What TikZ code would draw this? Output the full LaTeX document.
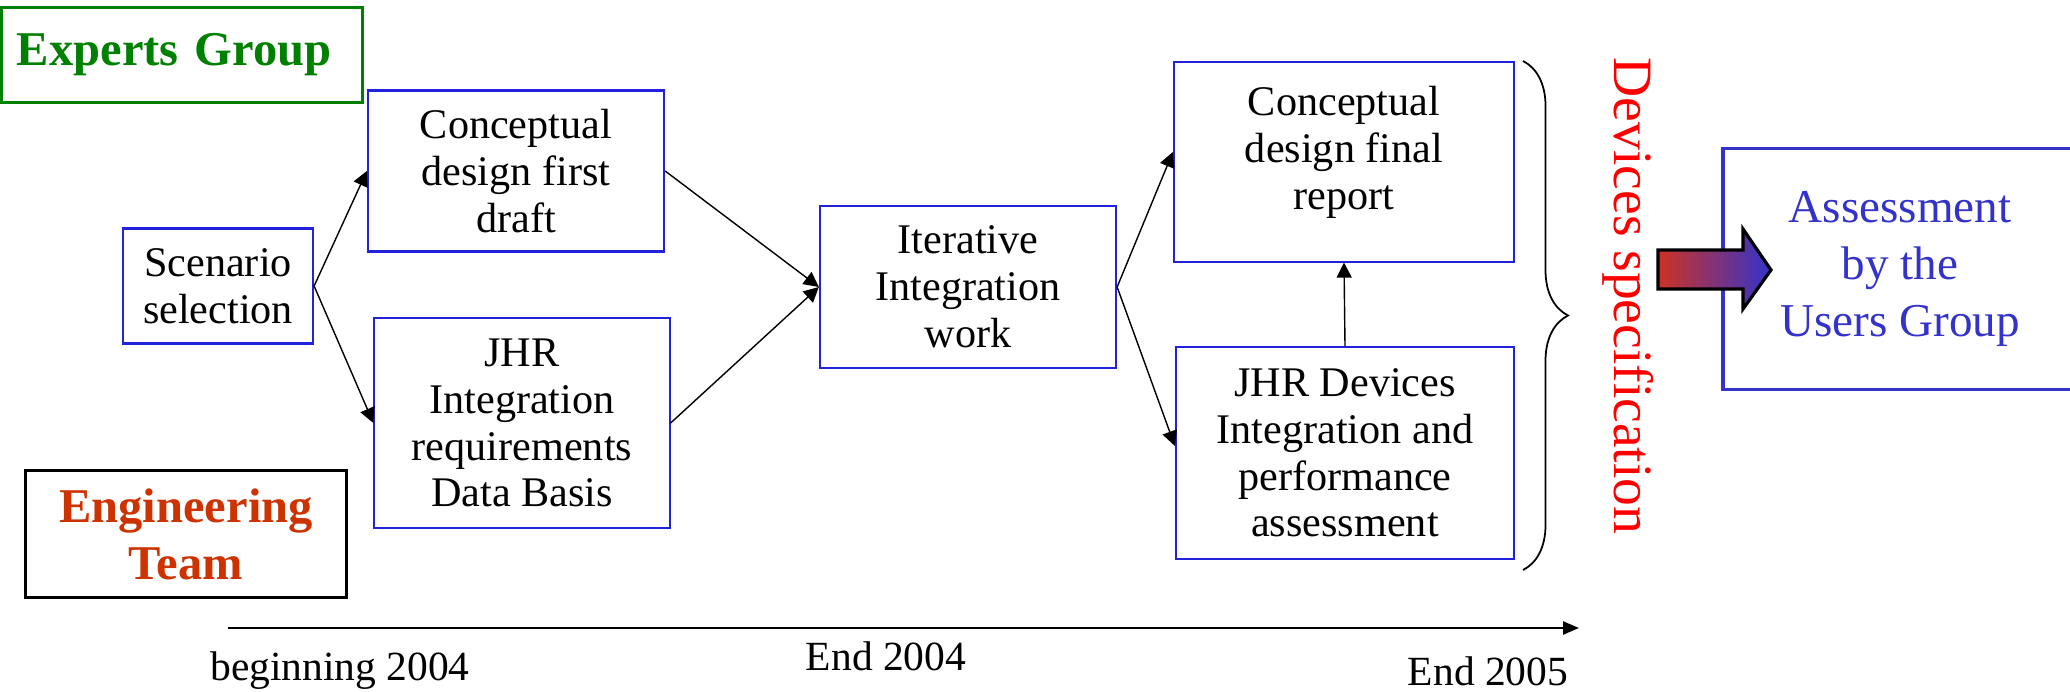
\documentclass[tikz,border=0pt]{standalone}
\usepackage{fontspec}
\setmainfont{Liberation Serif}
\usepackage{tikz}
\usetikzlibrary{positioning,arrows.meta,decorations.pathreplacing}
\definecolor{boxblue}{RGB}{34,34,221}
\definecolor{userblue}{RGB}{51,51,204}
\definecolor{expgreen}{RGB}{0,128,0}
\definecolor{engred}{RGB}{204,51,0}
\definecolor{arrred}{RGB}{204,51,34}
\definecolor{arrblue}{RGB}{51,51,204}

\begin{document}
\begin{tikzpicture}[x=0.01cm,y=-0.01cm,
	task/.style={draw=boxblue,line width=0.6pt,align=center,inner sep=0pt,
		font=\fontsize{12}{13.3}\selectfont},
	grp/.style={line width=0.9pt,align=center,inner sep=0pt,
		font=\bfseries\fontsize{13.8}{16.2}\selectfont},
	link/.style={line width=0.4pt,-{Triangle[length=1.5mm,width=1.5mm]}},
	when/.style={font=\fontsize{11.8}{13}\selectfont}]
	\useasboundingbox (0,0) rectangle (2070,691);
	\node[grp,draw=expgreen,text=expgreen,minimum width=3.61cm,minimum height=0.95cm,
		text width=3.3cm,align=left] (expg) at (182,55) {Experts Group};
	\node[grp,draw=black,text=engred,minimum width=3.2cm,minimum height=1.27cm] (engt) at (186,534) {Engineering\\Team};
	\node[task,minimum width=1.9cm,minimum height=1.15cm] (scen) at (218,286) {Scenario\\selection};
	\node[task,minimum width=2.96cm,minimum height=1.61cm] (cfirst) at (516,171) {Conceptual\\design first\\draft};
	\node[task,minimum width=2.95cm,minimum height=2.1cm] (jhri) at (522,423) {JHR\\Integration\\requirements\\Data Basis};
	\node[task,minimum width=2.96cm,minimum height=1.62cm] (iter) at (968,287) {Iterative\\Integration\\work};
	\node[task,minimum width=3.4cm,minimum height=1.99cm,text depth=0.28cm] (cfinal) at (1344,162) {Conceptual\\design final\\report};
	\node[task,minimum width=3.38cm,minimum height=2.11cm] (jhrd) at (1345,453) {JHR Devices\\Integration and\\performance\\assessment};
	\node[draw=userblue,line width=0.9pt,text=userblue,align=center,inner sep=0pt,
		font=\fontsize{13.4}{16.1}\selectfont,minimum width=3.54cm,minimum height=2.41cm] (assess) at (1900,269) {Assessment\\by the\\Users Group};
	\node[text=red,rotate=-90,inner sep=0pt,font=\fontsize{15.8}{18}\selectfont] (dspec) at (1628,296) {Devices specification};
	\draw[link] (scen.east) -- (cfirst.west);
	\draw[link] (scen.east) -- (jhri.west);
	\draw[link] (cfirst.east) -- (iter.west);
	\draw[link] (jhri.east) -- (iter.west);
	\draw[link] (iter.east) -- ([yshift=0.1cm]cfinal.west);
	\draw[link] (iter.east) -- ([yshift=0.07cm]jhrd.west);
	\draw[link] (jhrd.north) -- (cfinal.south);
	\coordinate (bt) at (1523,61);
	\coordinate (bb) at (1523,570);
	\draw[line width=0.5pt,decorate,decoration={brace,amplitude=0.45cm}] (bt) -- (bb);
	\draw[line width=0.9pt,left color=arrred,right color=arrblue] (1658,250) -- (1743,250) -- (1743,229) -- (1771,270)
		-- (1743,309) -- (1743,289) -- (1658,289) -- cycle;
	\coordinate (t0) at (228,628);
	\coordinate (t1) at (1579,628);
	\draw[line width=0.7pt,-{Triangle[length=1.6mm,width=1.3mm]}] (t0) -- (t1);
	\node[when] (tbeg) at (340,671) {beginning 2004};
	\node[when] (tmid) at (886,656) {End 2004};
	\node[when] (tend) at (1488,671) {End 2005};
\end{tikzpicture}
\end{document}
